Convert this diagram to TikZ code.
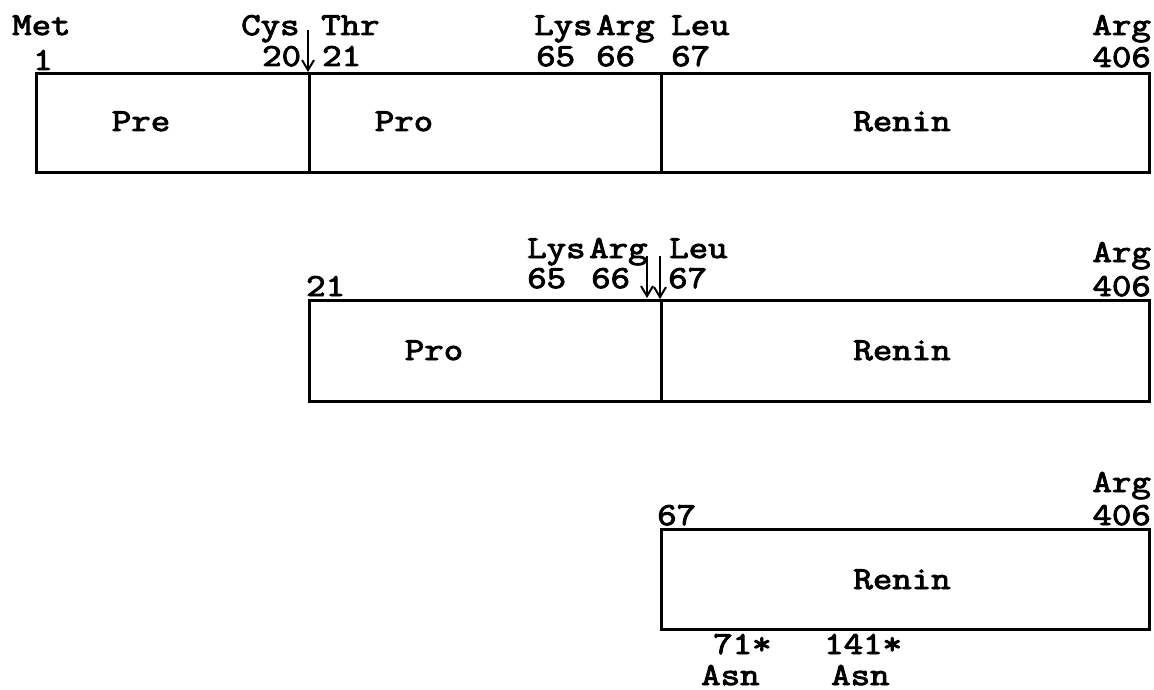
\documentclass[tikz,border=0pt]{standalone}
\usepackage{fontspec}
\newfontfamily\twfont{Latin Modern Mono}[FakeStretch=1.18, FakeBold=3]
\usetikzlibrary{arrows.meta}
\tikzset{
  seg/.style={draw, line width=2.6pt, inner sep=0pt, anchor=north west},
  lbl/.style={font=\twfont\fontsize{32}{38}\selectfont, inner sep=0pt},
  cut/.style={line width=2pt, -{Straight Barb[length=10pt,width=12pt,line width=2pt]}}
}
\begin{document}
\begin{tikzpicture}[x=1pt,y=-1pt]
\useasboundingbox (0,0) rectangle (1154,690);
% ---------- row 1 ----------
\node[seg, minimum width=273pt, minimum height=99pt] (pre1) at (35,72) {};
\node[seg, minimum width=352pt, minimum height=99pt] (pro1) at (308,72) {};
\node[seg, minimum width=488pt, minimum height=99pt] (ren1) at (660,72) {};
\node[lbl, anchor=base] (tpre1) at (141,131) {Pre};
\node[lbl, anchor=base] (tpro1) at (404,131) {Pro};
\node[lbl, anchor=base] (tren1) at (902,131) {Renin};
\node[lbl, anchor=base west] (met) at (12,35) {Met};
\node[lbl, anchor=base west] (n1) at (33,70) {1};
\node[lbl, anchor=base west] (cys) at (241,35) {Cys};
\node[lbl, anchor=base west] (thr) at (321,35) {Thr};
\node[lbl, anchor=base west] (n20) at (262,66) {20};
\node[lbl, anchor=base west] (n21) at (322,66) {21};
\node[lbl, anchor=base west] (lys1) at (534,35) {Lys};
\node[lbl, anchor=base west] (arg1) at (596,35) {Arg};
\node[lbl, anchor=base west] (leu1) at (671,35) {Leu};
\node[lbl, anchor=base west] (n65a) at (536,66) {65};
\node[lbl, anchor=base west] (n66a) at (596,66) {66};
\node[lbl, anchor=base west] (n67a) at (671,66) {67};
\node[lbl, anchor=base east] (argr1) at (1151,35) {Arg};
\node[lbl, anchor=base east] (n406a) at (1151,67) {406};
\coordinate (c1s) at (308,30);
\coordinate (c1e) at (308,72);
\draw[cut] (c1s) -- (c1e);
% ---------- row 2 ----------
\node[seg, minimum width=352pt, minimum height=101pt] (pro2) at (308,299) {};
\node[seg, minimum width=488pt, minimum height=101pt] (ren2) at (660,299) {};
\node[lbl, anchor=base] (tpro2) at (434,360) {Pro};
\node[lbl, anchor=base] (tren2) at (902,360) {Renin};
\node[lbl, anchor=base west] (n21b) at (306,296) {21};
\node[lbl, anchor=base west] (lys2) at (527,258) {Lys};
\node[lbl, anchor=base west] (arg2) at (589,258) {Arg};
\node[lbl, anchor=base west] (leu2) at (669,258) {Leu};
\node[lbl, anchor=base west] (n65b) at (527,288) {65};
\node[lbl, anchor=base west] (n66b) at (591,288) {66};
\node[lbl, anchor=base west] (n67b) at (668,288) {67};
\node[lbl, anchor=base east] (argr2) at (1151,262) {Arg};
\node[lbl, anchor=base east] (n406b) at (1151,296) {406};
\coordinate (c2s) at (647,256);
\coordinate (c2e) at (647,298);
\coordinate (c3s) at (660,256);
\coordinate (c3e) at (660,299);
\draw[cut] (c2s) -- (c2e);
\draw[cut] (c3s) -- (c3e);
% ---------- row 3 ----------
\node[seg, minimum width=488pt, minimum height=100pt] (ren3) at (660,528) {};
\node[lbl, anchor=base] (tren3) at (902,589) {Renin};
\node[lbl, anchor=base east] (argr3) at (1151,492) {Arg};
\node[lbl, anchor=base west] (n67c) at (657,525) {67};
\node[lbl, anchor=base east] (n406c) at (1151,525) {406};
\node[lbl, anchor=base west] (n71) at (713,654) {71*};
\node[lbl, anchor=base west] (n141) at (824,654) {141*};
\node[lbl, anchor=base west] (asn1) at (701,685) {Asn};
\node[lbl, anchor=base west] (asn2) at (831,685) {Asn};
\end{tikzpicture}
\end{document}
